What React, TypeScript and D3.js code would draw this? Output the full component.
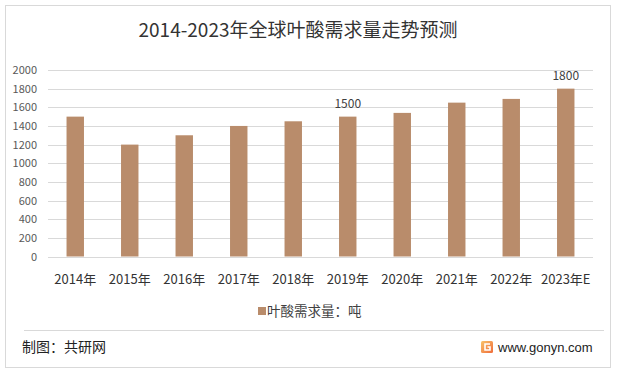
import React from "react";
import * as d3 from "d3";

const categories = ["2014年", "2015年", "2016年", "2017年", "2018年", "2019年", "2020年", "2021年", "2022年", "2023年E"];
const demand = [1500, 1200, 1300, 1400, 1450, 1500, 1540, 1650, 1690, 1800];
const labeledIndices = [5, 9];
const yTicks = [0, 200, 400, 600, 800, 1000, 1200, 1400, 1600, 1800, 2000];
const title = "2014-2023年全球叶酸需求量走势预测";
const legendLabel = "叶酸需求量：吨";
const sourceText = "制图：共研网";
const siteText = "www.gonyn.com";

const W = 617;
const H = 376;
const FONT = "'Noto Sans CJK SC', 'Microsoft YaHei', sans-serif";

export default function App() {
  const x = d3.scaleBand<string>().domain(categories).range([48, 593]).paddingInner(0.68).paddingOuter(0.34);
  const y = d3.scaleLinear().domain([0, 2000]).range([256.5, 70]);
  const barColor = "#B98C6B";

  return (
    <svg width={W} height={H} style={{ position: "absolute", left: 0, top: 0, background: "#fff" }} fontFamily={FONT}>
      <rect x={0} y={0} width={W} height={H} fill="#fff" />
      <rect x={5.5} y={5.5} width={605} height={362} fill="#fff" stroke="#d9d9d9" strokeWidth={1} />
      <text x={298} y={37} textAnchor="middle" fontSize={19} fill="#333">{title}</text>

      {yTicks.map((t) => (
        <g key={t}>
          <line x1={48} x2={593} y1={Math.round(y(t)) + 0.5} y2={Math.round(y(t)) + 0.5} stroke="#d9d9d9" strokeWidth={1} />
          <text x={37} y={y(t) + 4} textAnchor="end" fontSize={11} fill="#595959">{t}</text>
        </g>
      ))}

      {categories.map((c, i) => (
        <rect key={c} x={x(c)} y={y(demand[i])} width={x.bandwidth()} height={y(0) - y(demand[i])} fill={barColor} />
      ))}

      {labeledIndices.map((i) => (
        <text key={i} x={(x(categories[i]) as number) + x.bandwidth() / 2} y={y(demand[i]) - 9} textAnchor="middle" fontSize={12} fill="#404040">{demand[i]}</text>
      ))}

      {categories.map((c) => (
        <text key={c} x={(x(c) as number) + x.bandwidth() / 2} y={284} textAnchor="middle" fontSize={13} fill="#333">{c}</text>
      ))}

      <rect x={258} y={307} width={8} height={8} fill={barColor} />
      <text x={267} y={316} fontSize={13.5} fill="#404040">{legendLabel}</text>

      <line x1={24} x2={604} y1={330.5} y2={330.5} stroke="#d9d9d9" strokeWidth={1} />
      <text x={22} y={352} fontSize={14} fill="#222">{sourceText}</text>

      <defs>
        <linearGradient id="logoGrad" x1="0" y1="0" x2="1" y2="1">
          <stop offset="0%" stopColor="#F9C36A" />
          <stop offset="100%" stopColor="#EF6B3A" />
        </linearGradient>
      </defs>
      <rect x={481} y={341} width={12} height={12} rx={1.5} fill="url(#logoGrad)" />
      <path d="M490 344 H485 V350 H490 V347 H487.5" fill="none" stroke="#fff" strokeWidth={1.6} />
      <text x={498} y={351.5} fontSize={13} fill="#222" fontFamily="Arial, 'Liberation Sans', sans-serif">{siteText}</text>
    </svg>
  );
}
